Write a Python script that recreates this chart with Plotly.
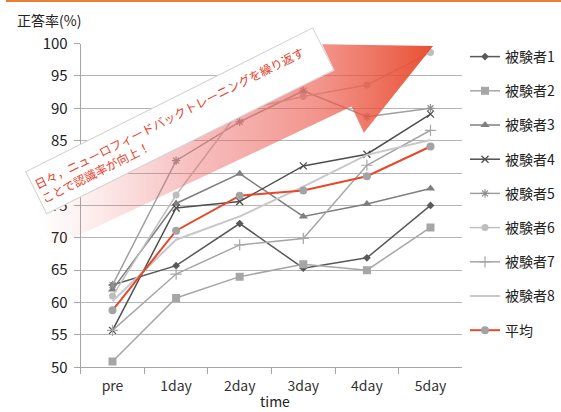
import plotly.graph_objects as go

# ---- data -------------------------------------------------------------
days = ["pre", "1day", "2day", "3day", "4day", "5day"]

subject1 = [62.7, 65.7, 72.2, 65.3, 66.9, 75.0]
subject2 = [50.9, 60.7, 64.0, 65.9, 65.0, 71.6]
subject3 = [62.0, 75.3, 79.9, 73.3, 75.2, 77.6]
subject4 = [55.7, 74.6, 75.6, 81.1, 82.9, 89.1]
subject5 = [62.7, 81.9, 87.9, 92.7, 88.7, 90.0]
subject6 = [61.0, 76.6, 89.7, 91.8, 93.6, 98.6]
subject7 = [55.7, 64.4, 68.9, 69.9, 81.2, 86.6]
subject8 = [60.2, 69.7, 73.3, 77.9, 82.8, 85.1]
average = [58.8, 71.1, 76.5, 77.3, 79.5, 84.1]

series_names = ["被験者1", "被験者2", "被験者3", "被験者4", "被験者5",
                "被験者6", "被験者7", "被験者8", "平均"]
series_values = [subject1, subject2, subject3, subject4, subject5,
                 subject6, subject7, subject8, average]

y_ticks = [50, 55, 60, 65, 70, 75, 80, 85, 90, 95, 100]

message = "日々，ニューロフィードバックトレーニングを繰り返す<br>ことで認識率が向上！"

# ---- styles -----------------------------------------------------------
W, H = 561, 412
FONT = "Noto Sans CJK JP"

styles = [
    dict(line="#595959", width=1.5, marker=dict(symbol="diamond", size=6, color="#595959")),
    dict(line="#a6a6a6", width=1.5, marker=dict(symbol="square", size=8, color="#a6a6a6")),
    dict(line="#7f7f7f", width=1.5, marker=dict(symbol="triangle-up", size=8, color="#7f7f7f")),
    dict(line="#4f4f4f", width=1.5, marker=dict(symbol="x-thin-open", size=7, color="#4f4f4f",
                                                line=dict(width=1.3, color="#4f4f4f"))),
    dict(line="#a0a0a0", width=1.5, marker=dict(symbol="asterisk-open", size=7, color="#909090",
                                                line=dict(width=1.2, color="#909090"))),
    dict(line="#bfbfbf", width=1.5, marker=dict(symbol="circle", size=7, color="#bdbdbd")),
    dict(line="#a6a6a6", width=1.5, marker=dict(symbol="cross-thin-open", size=8, color="#a6a6a6",
                                                line=dict(width=1.2, color="#a6a6a6"))),
    dict(line="#c8c8c8", width=2.0, marker=None),
    dict(line="#e8482a", width=2.0, marker=dict(symbol="circle", size=8, color="#a3a3a3")),
]

fig = go.Figure()

for i, (name, vals, st) in enumerate(zip(series_names, series_values, styles)):
    fig.add_trace(go.Scatter(
        x=days, y=vals, name=name,
        mode="lines+markers" if st["marker"] else "lines",
        line=dict(color=st["line"], width=st["width"]),
        marker=st["marker"] if st["marker"] else None,
        legendgroup=f"g{i}",
        xaxis="x", yaxis="y",
        hoverinfo="x+y+name",
    ))

# ---- decorative arrow on a full-page pixel overlay ----------------------
ux, uy = 0.9045, -0.427          # arrow direction
nx, ny = 0.427, 0.9045           # perpendicular
mx, my = 343.0, 88.5             # base of the arrow head
half = 20.0                      # half thickness of the shaft
back = 330.0                     # shaft length
cx, cy = mx - back * ux, my - back * uy
head_half = 48.8
head_len = 99.5
tipx, tipy = mx + head_len * ux, my + head_len * uy

arrow_x = [cx - half * nx, mx - half * nx, mx - head_half * nx, tipx,
           mx + head_half * nx, mx + half * nx, cx + half * nx, cx - half * nx]
arrow_y = [cy - half * ny, my - half * ny, my - head_half * ny, tipy,
           my + head_half * ny, my + half * ny, cy + half * ny, cy - half * ny]

fig.add_trace(go.Scatter(
    x=arrow_x, y=arrow_y, xaxis="x2", yaxis="y2",
    mode="lines", line=dict(width=0, color="rgba(0,0,0,0)"),
    fill="toself",
    fillgradient=dict(
        type="horizontal",
        colorscale=[
            [0.0, "rgba(236,110,110,0)"],
            [0.12, "rgba(236,110,110,0.10)"],
            [0.40, "rgba(236,100,100,0.42)"],
            [0.72, "rgba(236,92,78,0.66)"],
            [1.0, "rgba(232,72,40,0.96)"],
        ],
    ),
    showlegend=False, hoverinfo="skip",
))

plot_x0, plot_x1 = 80.7, 462.3
plot_y0, plot_y1 = 43.5, 367.3

fig.update_layout(
    width=W, height=H,
    margin=dict(l=0, r=0, t=0, b=0, pad=0, autoexpand=False),
    paper_bgcolor="white",
    plot_bgcolor="rgba(0,0,0,0)",
    font=dict(family=FONT, size=14, color="#333333"),
    showlegend=True,
    legend=dict(
        x=465 / W, y=1 - 41 / H, xanchor="left", yanchor="top",
        font=dict(family=FONT, size=14, color="#222222"),
        tracegroupgap=13, itemwidth=30,
        bgcolor="rgba(0,0,0,0)",
    ),
    xaxis=dict(
        domain=[plot_x0 / W, plot_x1 / W],
        type="category", categoryorder="array", categoryarray=days,
        range=[-0.5, len(days) - 0.5],
        showgrid=False, zeroline=False, automargin=False,
        showline=True, linecolor="#a6a6a6", linewidth=1,
        ticks="outside", tickson="boundaries", ticklen=6,
        tickcolor="#a6a6a6", tickwidth=1,
        tickfont=dict(size=14, color="#333333"),
        ticklabelstandoff=6,
        anchor="y", fixedrange=True,
    ),
    yaxis=dict(
        domain=[1 - plot_y1 / H, 1 - plot_y0 / H],
        range=[50, 100], tickvals=y_ticks,
        showgrid=True, gridcolor="#b4b4b4", gridwidth=1,
        zeroline=False, automargin=False,
        showline=True, linecolor="#a6a6a6", linewidth=1,
        ticks="outside", ticklen=6, tickcolor="#a6a6a6", tickwidth=1,
        tickfont=dict(size=15, color="#222222"),
        ticklabelstandoff=3,
        anchor="x", fixedrange=True,
    ),
    xaxis2=dict(domain=[0, 1], range=[0, W], visible=False, automargin=False,
                anchor="y2", fixedrange=True),
    yaxis2=dict(domain=[0, 1], range=[H, 0], visible=False, automargin=False,
                anchor="x2", fixedrange=True),
    shapes=[
        dict(type="line", xref="paper", yref="paper",
             x0=6 / W, x1=1, y0=1 - 1 / H, y1=1 - 1 / H,
             line=dict(color="#ed7d31", width=2)),
    ],
    annotations=[
        dict(text="正答率(%)", xref="paper", yref="paper",
             x=15 / W, y=1 - 20 / H, xanchor="left", yanchor="middle",
             showarrow=False, font=dict(size=14, color="#222222")),
        dict(text="time", xref="paper", yref="paper",
             x=275 / W, y=1 - 401 / H, xanchor="center", yanchor="middle",
             showarrow=False, font=dict(size=14, color="#222222")),
        dict(text=message, xref="paper", yref="paper",
             x=179.5 / W, y=1 - 121.5 / H, xanchor="center", yanchor="middle",
             showarrow=False, textangle=-26.6, align="left",
             width=316, height=42,
             bgcolor="white", bordercolor="#d4d4d4", borderwidth=1, borderpad=2,
             font=dict(size=12, color="#e8402a")),
    ],
)

fig.write_html("out.html")
